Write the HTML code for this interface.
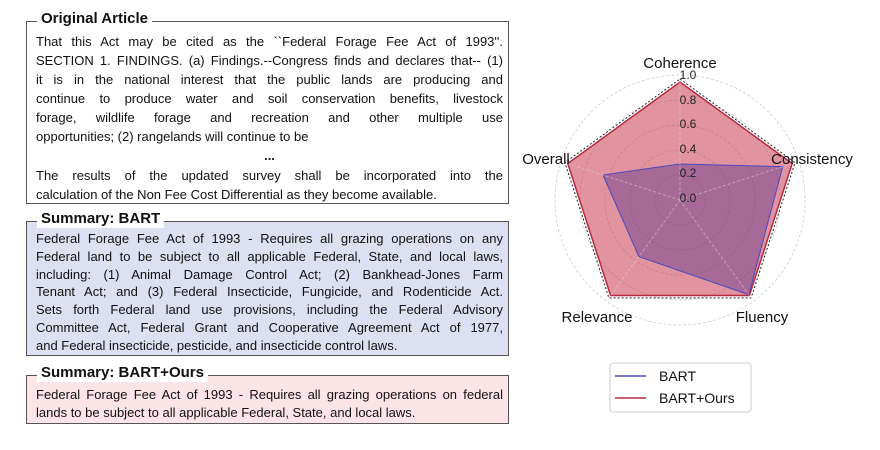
<!DOCTYPE html>
<html><head><style>
body{margin:0;width:880px;height:450px;background:#fff;position:relative;overflow:hidden;font-family:"Liberation Sans",sans-serif}
.box{position:absolute;left:26px;width:483px;border:1.5px solid #555;box-sizing:border-box}
.t{position:absolute;left:10px;top:-12px;font-weight:bold;font-size:15px;background:#fff;padding:0 4px;line-height:18px;color:#111}
.ln{position:absolute;left:9px;width:467px;font-size:13px;color:#111;text-align:justify;text-align-last:justify;white-space:nowrap;overflow:visible}
.ln.l{text-align-last:left}
</style></head><body>
<div class="box" style="top:21px;height:183px">
<div class="t">Original Article</div>
<div class="ln" style="top:12px">That this Act may be cited as the ``Federal Forage Fee Act of 1993''.</div>
<div class="ln" style="top:31px">SECTION 1. FINDINGS. (a) Findings.--Congress finds and declares that-- (1)</div>
<div class="ln" style="top:50px">it is in the national interest that the public lands are producing and</div>
<div class="ln" style="top:69px">continue to produce water and soil conservation benefits, livestock</div>
<div class="ln" style="top:88px">forage, wildlife forage and recreation and other multiple use</div>
<div class="ln l" style="top:107px">opportunities; (2) rangelands will continue to be</div>
<div class="ln l" style="top:126px;text-align:center;text-align-last:center;font-weight:bold">...</div>
<div class="ln" style="top:146px">The results of the updated survey shall be incorporated into the</div>
<div class="ln l" style="top:165px">calculation of the Non Fee Cost Differential as they become available.</div>
</div>
<div class="box" style="top:221px;height:135px;background:#dde0f1">
<div class="t">Summary: BART</div>
<div class="ln" style="top:9px">Federal Forage Fee Act of 1993 - Requires all grazing operations on any</div>
<div class="ln" style="top:27px">Federal land to be subject to all applicable Federal, State, and local laws,</div>
<div class="ln" style="top:45px">including: (1) Animal Damage Control Act; (2) Bankhead-Jones Farm</div>
<div class="ln" style="top:62px">Tenant Act; and (3) Federal Insecticide, Fungicide, and Rodenticide Act.</div>
<div class="ln" style="top:80px">Sets forth Federal land use provisions, including the Federal Advisory</div>
<div class="ln" style="top:98px">Committee Act, Federal Grant and Cooperative Agreement Act of 1977,</div>
<div class="ln l" style="top:116px">and Federal insecticide, pesticide, and insecticide control laws.</div>
</div>
<div class="box" style="top:375px;height:49px;background:#fce4e7">
<div class="t">Summary: BART+Ours</div>
<div class="ln" style="top:11px">Federal Forage Fee Act of 1993 - Requires all grazing operations on federal</div>
<div class="ln l" style="top:29px">lands to be subject to all applicable Federal, State, and local laws.</div>
</div>
<svg width="880" height="450" style="position:absolute;left:0;top:0" font-family="Liberation Sans, sans-serif">
<g fill="none" stroke="#ccc" stroke-width="0.8" stroke-dasharray="3,2">
<circle cx="680" cy="200" r="25"/><circle cx="680" cy="200" r="50"/><circle cx="680" cy="200" r="75"/><circle cx="680" cy="200" r="100"/><circle cx="680" cy="200" r="125"/>
</g>
<polygon points="680,82 792.2,163.5 749.4,295.5 610.6,295.5 567.8,163.5" fill="rgba(200,60,80,0.55)" stroke="#b8283e" stroke-width="1.5"/>
<polygon points="680,79 795.1,162.6 751.1,297.9 608.9,297.9 564.9,162.6" fill="none" stroke="#222" stroke-width="1" stroke-dasharray="2,2"/>
<polygon points="680,164 782.7,166.6 748.8,294.7 638.9,256.6 603,175" fill="rgba(80,40,140,0.4)" stroke="#4a4ac0" stroke-width="1"/>
<g stroke="#ddd" stroke-width="0.8" stroke-dasharray="3,2" opacity="0.6">
<line x1="680" y1="200" x2="680" y2="75"/><line x1="680" y1="200" x2="798.9" y2="161.4"/><line x1="680" y1="200" x2="753.5" y2="301.1"/><line x1="680" y1="200" x2="606.5" y2="301.1"/><line x1="680" y1="200" x2="561.1" y2="161.4"/>
</g>
<g font-size="12" fill="#222" text-anchor="middle">
<text x="688" y="79">1.0</text><text x="688" y="104">0.8</text><text x="688" y="128">0.6</text><text x="688" y="153">0.4</text><text x="688" y="177">0.2</text><text x="688" y="202">0.0</text>
</g>
<g font-size="15" fill="#111" text-anchor="middle">
<text x="680" y="68">Coherence</text>
<text x="812" y="164">Consistency</text>
<text x="546" y="164">Overall</text>
<text x="597" y="322">Relevance</text>
<text x="762" y="322">Fluency</text>
</g>
<rect x="610" y="363" width="141" height="49" rx="3" fill="#fff" stroke="#ccc"/>
<line x1="615" y1="376" x2="646" y2="376" stroke="#4a4ac0" stroke-width="1.5"/>
<line x1="615" y1="398" x2="646" y2="398" stroke="#b8283e" stroke-width="1.5"/>
<g font-size="14" fill="#111"><text x="659" y="381">BART</text><text x="659" y="403">BART+Ours</text></g>
</svg>
</body></html>
